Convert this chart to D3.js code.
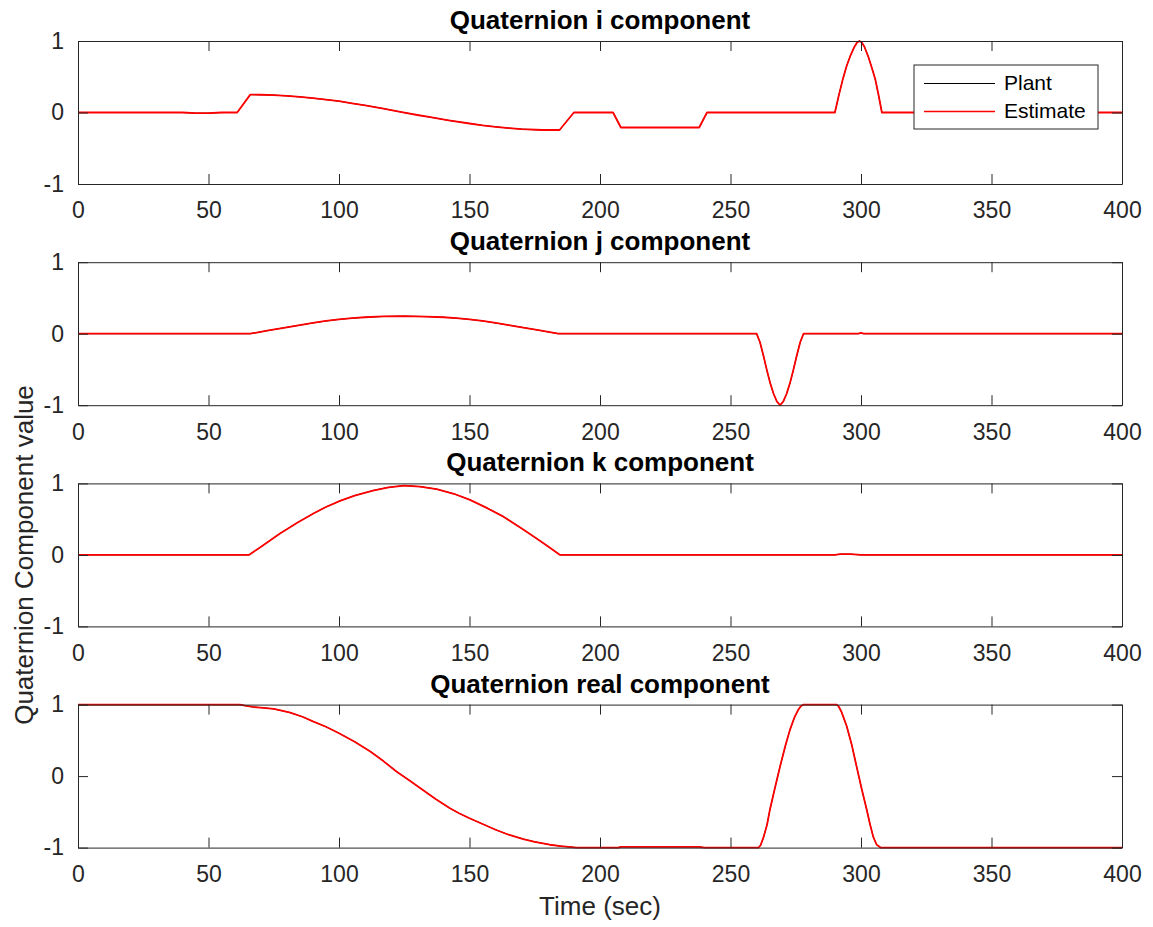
<!DOCTYPE html>
<html>
<head>
<meta charset="utf-8">
<script src="https://cdn.jsdelivr.net/npm/d3@7"></script>
<style>
  body { margin: 0; background: #fff; }
  text { font-family: "Liberation Sans", Arial, sans-serif; }
</style>
</head>
<body>
<script>
var svgWidth = 1153;
var svgHeight = 927;

// x ticks / y ticks shared by every panel
var xTicks = [0, 50, 100, 150, 200, 250, 300, 350, 400];
var yTicks = [-1, 0, 1];

var titles = ['Quaternion i component', 'Quaternion j component',
              'Quaternion k component', 'Quaternion real component'];

// [time (sec), value]
var iComp = [[0,0],[40,0],[45,-0.01],[50,-0.01],[55,0],[61,0],[66,0.25],[70,0.248],[75,0.243],
  [80,0.233],[85,0.218],[90,0.2],[95,0.18],[100,0.158],[105,0.128],[110,0.1],[117,0.055],[124,0.005],
  [130,-0.035],[135,-0.066],[142,-0.11],[150,-0.154],[155,-0.18],[160,-0.2],[165,-0.218],[170,-0.233],
  [178,-0.245],[184.5,-0.245],[190,0],[205,0],[208,-0.21],[238,-0.21],[241,0],[290,0],[291.5,0.24],
  [293,0.46],[294.5,0.65],[296,0.8],[297.5,0.92],[298.5,0.98],[299.4,1],[300.3,0.98],[301.3,0.92],
  [302.8,0.78],[304.2,0.62],[305.5,0.46],[306.8,0.23],[308,0],[400,0]];

var jComp = [[0,0],[66,0],[73,0.045],[80,0.09],[85,0.12],[90,0.15],[95,0.178],[100,0.2],[105,0.217],
  [110,0.23],[117,0.241],[125,0.245],[133,0.24],[140,0.23],[145,0.217],[150,0.2],[155,0.178],
  [160,0.15],[165,0.12],[170,0.09],[177,0.045],[184,0],[260,0],[261.3,-0.12],[262.7,-0.32],
  [264,-0.52],[265.2,-0.69],[266.5,-0.84],[267.8,-0.95],[269,-1],[270.2,-0.95],[271.5,-0.84],
  [272.8,-0.69],[274,-0.52],[275.3,-0.32],[276.7,-0.12],[278,0],[299,0],[300,0.01],[301,0],[400,0]];

var kComp = [[0,0],[65.5,0],[70,0.11],[77.4,0.3],[84,0.45],[90.2,0.58],[95,0.67],[100.4,0.755],
  [106,0.83],[113,0.9],[119,0.945],[125,0.97],[131,0.955],[137.4,0.92],[144,0.855],[150.2,0.77],
  [157,0.65],[163,0.535],[170,0.37],[175.7,0.23],[180,0.12],[184.7,0],[290,0],[292,0.01],[296,0.01],
  [300,0],[400,0]];

var realComp = [[0,1],[62,1],[64,0.985],[67,0.967],[71,0.955],[75,0.94],[81,0.89],[86,0.83],
  [90,0.765],[95,0.69],[100,0.6],[106,0.48],[112,0.345],[117,0.21],[122,0.065],[127,-0.06],
  [132,-0.19],[137,-0.32],[142.5,-0.45],[146,-0.52],[150,-0.59],[155,-0.67],[160,-0.75],[165,-0.82],
  [170.6,-0.88],[175,-0.92],[180.8,-0.96],[185,-0.98],[191,-1],[207,-1],[208,-0.99],[238,-0.99],
  [240,-1],[260.7,-1],[261.5,-0.97],[262.7,-0.85],[264,-0.68],[265.1,-0.47],[267,-0.17],[269,0.136],
  [271,0.42],[272.8,0.65],[274.5,0.82],[276,0.93],[277,0.98],[278,1],[290.7,1],[291.5,0.97],
  [292.5,0.9],[293.5,0.8],[294.5,0.7],[296.5,0.43],[298.3,0.136],[300.2,-0.17],[302.2,-0.47],
  [303.5,-0.68],[304.7,-0.85],[306,-0.96],[307.5,-1],[400,-1]];

// estimate tracks the plant closely, so same readings
var plantData = [iComp, jComp, kComp, realComp];
var estimateData = [iComp, jComp, kComp, realComp];

var legendLabels = ['Plant', 'Estimate'];
var legendColors = ['#000000', '#ff0000'];

var axisColor = '#262626';
var left = 78, right = 1122;
var panelTop = 41, panelStep = 221.2, panelHeight = 143;
var tickLen = 10;

var svg = d3.select('body').append('svg')
  .attr('width', svgWidth)
  .attr('height', svgHeight);

var x = d3.scaleLinear().domain([0, 400]).range([left, right]);

for (var p = 0; p < 4; p++) {
  var py = panelTop + p * panelStep;
  var y = d3.scaleLinear().domain([-1, 1]).range([py + panelHeight, py]);
  var g = svg.append('g');

  var line = d3.line()
    .x(function(d) { return x(d[0]); })
    .y(function(d) { return y(d[1]); });

  g.append('path')
    .datum(plantData[p])
    .attr('d', line)
    .attr('fill', 'none')
    .attr('stroke', legendColors[0])
    .attr('stroke-width', 1);

  g.append('path')
    .datum(estimateData[p])
    .attr('d', line)
    .attr('fill', 'none')
    .attr('stroke', legendColors[1])
    .attr('stroke-width', 1.8)
    .attr('stroke-linejoin', 'round');

  // bottom axis with labels, top axis as mirrored ticks
  var xb = g.append('g').attr('transform', 'translate(0,' + (py + panelHeight) + ')')
    .call(d3.axisBottom(x).tickValues(xTicks).tickSizeInner(-tickLen).tickSizeOuter(0).tickPadding(18));
  var xt = g.append('g').attr('transform', 'translate(0,' + py + ')')
    .call(d3.axisTop(x).tickValues(xTicks).tickSizeInner(-tickLen).tickSizeOuter(0).tickFormat(''));
  var yl = g.append('g').attr('transform', 'translate(' + left + ',0)')
    .call(d3.axisLeft(y).tickValues(yTicks).tickSizeInner(-tickLen).tickSizeOuter(0).tickPadding(14)
      .tickFormat(function(d) { return String(d); }));
  var yr = g.append('g').attr('transform', 'translate(' + right + ',0)')
    .call(d3.axisRight(y).tickValues(yTicks).tickSizeInner(-tickLen).tickSizeOuter(0).tickFormat(''));

  [xb, xt, yl, yr].forEach(function(a) {
    a.selectAll('path, line').attr('stroke', axisColor);
    a.selectAll('text').attr('fill', axisColor).style('font-size', '23px');
  });

  g.append('text')
    .attr('x', (left + right) / 2)
    .attr('y', py - 12)
    .attr('text-anchor', 'middle')
    .style('font-size', '26px')
    .style('font-weight', 'bold')
    .attr('fill', '#000')
    .text(titles[p]);
}

// legend in the first panel
var leg = svg.append('g');
leg.append('rect')
  .attr('x', 914).attr('y', 65).attr('width', 184).attr('height', 64)
  .attr('fill', '#fff').attr('stroke', axisColor).attr('stroke-width', 1);
legendLabels.forEach(function(label, i) {
  var ly = 83 + i * 28;
  leg.append('line')
    .attr('x1', 924).attr('x2', 995)
    .attr('y1', ly + 0.5).attr('y2', ly + 0.5)
    .attr('stroke', legendColors[i])
    .attr('stroke-width', i === 0 ? 1 : 1.5);
  leg.append('text')
    .attr('x', 1004)
    .attr('y', ly)
    .attr('dy', '0.35em')
    .style('font-size', '21px')
    .attr('fill', '#000')
    .text(label);
});

svg.append('text')
  .attr('x', (left + right) / 2)
  .attr('y', 915)
  .attr('text-anchor', 'middle')
  .style('font-size', '26px')
  .attr('fill', axisColor)
  .text('Time (sec)');

svg.append('text')
  .attr('transform', 'translate(33,' + 555 + ') rotate(-90)')
  .attr('text-anchor', 'middle')
  .style('font-size', '26px')
  .attr('fill', axisColor)
  .text('Quaternion Component value');
</script>
</body>
</html>
